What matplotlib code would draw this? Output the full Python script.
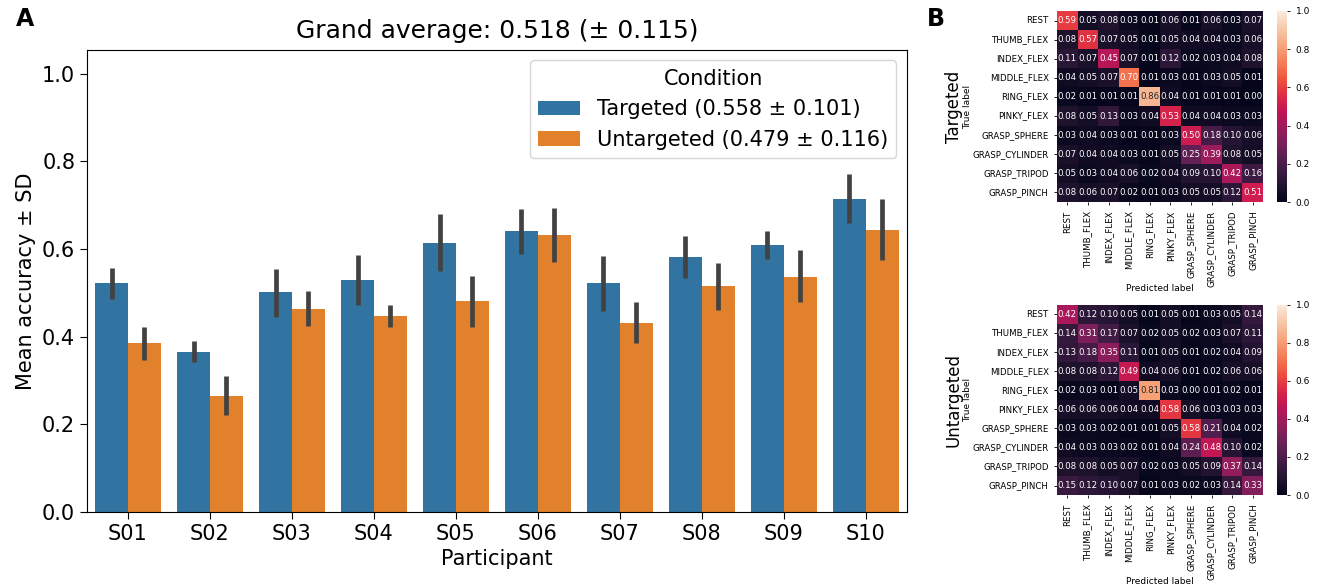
import numpy as np
import matplotlib
matplotlib.use('Agg')
import matplotlib.pyplot as plt
import seaborn as sns

# participantes e medias por condicao
participantes = ['S01', 'S02', 'S03', 'S04', 'S05', 'S06', 'S07', 'S08', 'S09', 'S10']
mediaTargeted = [0.522, 0.364, 0.501, 0.530, 0.613, 0.642, 0.522, 0.581, 0.608, 0.715]
infTargeted = [0.486, 0.341, 0.444, 0.473, 0.549, 0.589, 0.459, 0.534, 0.576, 0.660]
supTargeted = [0.557, 0.389, 0.555, 0.586, 0.680, 0.692, 0.584, 0.629, 0.641, 0.772]
mediaUntargeted = [0.385, 0.264, 0.462, 0.446, 0.481, 0.632, 0.432, 0.515, 0.536, 0.644]
infUntargeted = [0.347, 0.222, 0.424, 0.422, 0.422, 0.571, 0.385, 0.461, 0.478, 0.575]
supUntargeted = [0.421, 0.309, 0.504, 0.472, 0.538, 0.694, 0.480, 0.569, 0.597, 0.715]

classes = ['REST', 'THUMB_FLEX', 'INDEX_FLEX', 'MIDDLE_FLEX', 'RING_FLEX', 'PINKY_FLEX',
           'GRASP_SPHERE', 'GRASP_CYLINDER', 'GRASP_TRIPOD', 'GRASP_PINCH']

cmTargeted = [
    [0.59, 0.05, 0.08, 0.03, 0.01, 0.06, 0.01, 0.06, 0.03, 0.07],
    [0.08, 0.57, 0.07, 0.05, 0.01, 0.05, 0.04, 0.04, 0.03, 0.06],
    [0.11, 0.07, 0.45, 0.07, 0.01, 0.12, 0.02, 0.03, 0.04, 0.08],
    [0.04, 0.05, 0.07, 0.70, 0.01, 0.03, 0.01, 0.03, 0.05, 0.01],
    [0.02, 0.01, 0.01, 0.01, 0.86, 0.04, 0.01, 0.01, 0.01, 0.00],
    [0.08, 0.05, 0.13, 0.03, 0.04, 0.53, 0.04, 0.04, 0.03, 0.03],
    [0.03, 0.04, 0.03, 0.01, 0.01, 0.03, 0.50, 0.18, 0.10, 0.06],
    [0.07, 0.04, 0.04, 0.03, 0.01, 0.05, 0.25, 0.39, 0.08, 0.05],
    [0.05, 0.03, 0.04, 0.06, 0.02, 0.04, 0.09, 0.10, 0.42, 0.16],
    [0.08, 0.06, 0.07, 0.02, 0.01, 0.03, 0.05, 0.05, 0.12, 0.51],
]
cmUntargeted = [
    [0.42, 0.12, 0.10, 0.05, 0.01, 0.05, 0.01, 0.03, 0.05, 0.14],
    [0.14, 0.31, 0.17, 0.07, 0.02, 0.05, 0.02, 0.03, 0.07, 0.11],
    [0.13, 0.18, 0.35, 0.11, 0.01, 0.05, 0.01, 0.02, 0.04, 0.09],
    [0.08, 0.08, 0.12, 0.49, 0.04, 0.06, 0.01, 0.02, 0.06, 0.06],
    [0.02, 0.03, 0.01, 0.05, 0.81, 0.03, 0.00, 0.01, 0.02, 0.01],
    [0.06, 0.06, 0.06, 0.04, 0.04, 0.58, 0.06, 0.03, 0.03, 0.03],
    [0.03, 0.03, 0.02, 0.01, 0.01, 0.05, 0.58, 0.21, 0.04, 0.02],
    [0.04, 0.03, 0.03, 0.02, 0.01, 0.04, 0.24, 0.48, 0.10, 0.02],
    [0.08, 0.08, 0.05, 0.07, 0.02, 0.03, 0.05, 0.09, 0.37, 0.14],
    [0.15, 0.12, 0.10, 0.07, 0.01, 0.03, 0.02, 0.03, 0.14, 0.33],
]

corAzul = '#3274a1'
corLaranja = '#e1812c'
corErro = '#424242'

fig = plt.figure(figsize=(13.18, 5.85), dpi=100)

# painel A - barras
ax = fig.add_axes([0.066, 0.125, 0.622, 0.7895])
x = np.arange(len(participantes))
larg = 0.4
ax.bar(x - larg / 2, mediaTargeted, width=larg, color=corAzul,
       label='Targeted (0.558 ± 0.101)')
ax.bar(x + larg / 2, mediaUntargeted, width=larg, color=corLaranja,
       label='Untargeted (0.479 ± 0.116)')
ax.vlines(x - larg / 2, infTargeted, supTargeted, color=corErro, lw=3.4)
ax.vlines(x + larg / 2, infUntargeted, supUntargeted, color=corErro, lw=3.4)
ax.set_xlim(-0.5, len(participantes) - 0.5)
ax.set_ylim(0, 1.054)
ax.set_xticks(x)
ax.set_xticklabels(participantes)
ax.set_yticks([0.0, 0.2, 0.4, 0.6, 0.8, 1.0])
ax.tick_params(labelsize=15, length=5)
ax.set_xlabel('Participant', fontsize=15)
ax.set_ylabel('Mean accuracy ± SD', fontsize=15)
ax.set_title('Grand average: 0.518 (± 0.115)', fontsize=18, pad=9)
ax.legend(title='Condition', fontsize=15, title_fontsize=15, loc='upper right')
fig.text(0.012, 0.955, 'A', fontsize=17, fontweight='bold')

# painel B - matrizes de confusao
def desenhaMatriz(matriz, pos, posBarra, nome):
    axm = fig.add_axes(pos)
    axc = fig.add_axes(posBarra)
    sns.heatmap(np.array(matriz), ax=axm, cbar_ax=axc, cmap='rocket', vmin=0, vmax=1,
                annot=True, fmt='.2f', annot_kws={'fontsize': 6.2},
                xticklabels=classes, yticklabels=classes)
    axm.tick_params(labelsize=6.2, length=2.5, width=0.6)
    axm.set_xticklabels(classes, rotation=90)
    axm.set_yticklabels(classes, rotation=0)
    axm.set_xlabel('Predicted label', fontsize=6.5)
    axm.set_ylabel('True label', fontsize=6.5)
    # rotulos dos eixos posicionados a partir do reference (pixels da figura)
    altPx = pos[3] * 585
    axm.xaxis.set_label_coords(0.5, -82 / altPx)
    axm.yaxis.set_label_coords((972 - 1057) / 206, 0.5)
    axc.tick_params(labelsize=6.5, length=2.5, width=0.6)
    axc.set_yticks([0.0, 0.2, 0.4, 0.6, 0.8, 1.0])
    for s in axc.spines.values():
        s.set_visible(False)
    meio = pos[1] + pos[3] / 2
    fig.text(954 / 1318, meio, nome, fontsize=12, rotation=90, ha='center', va='center')

desenhaMatriz(cmTargeted, [0.802, 0.6547, 0.1563, 0.3265], [0.969, 0.6547, 0.0076, 0.3265], 'Targeted')
desenhaMatriz(cmUntargeted, [0.802, 0.1538, 0.1563, 0.3256], [0.969, 0.1538, 0.0076, 0.3256], 'Untargeted')
fig.text(0.703, 0.955, 'B', fontsize=17, fontweight='bold')

fig.savefig('out.png', dpi=100)
